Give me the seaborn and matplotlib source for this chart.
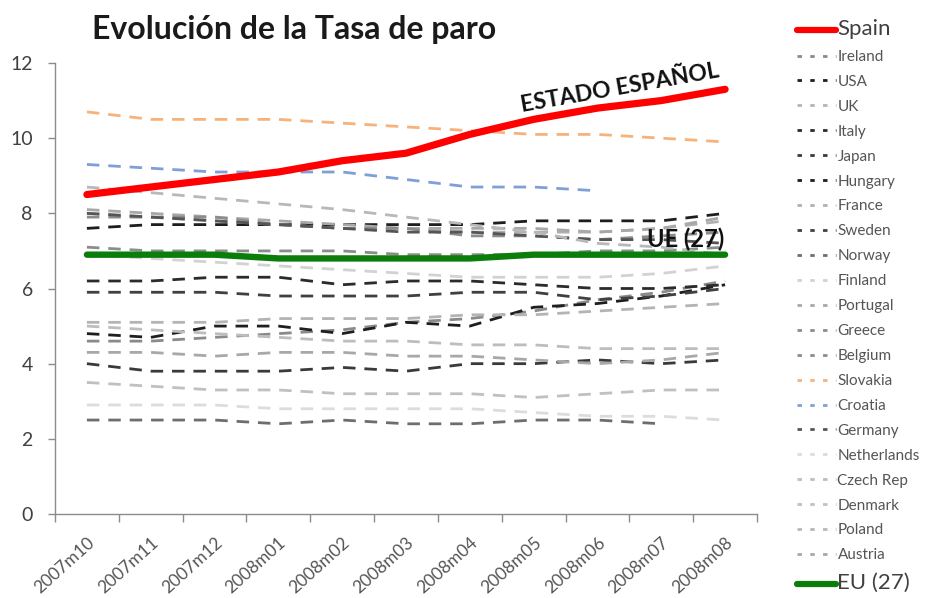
import numpy as np
import pandas as pd
import matplotlib
matplotlib.use("Agg")
import matplotlib.pyplot as plt
import seaborn as sns
from matplotlib.lines import Line2D

# ---------------- data ----------------
months = ["2007m10", "2007m11", "2007m12", "2008m01", "2008m02", "2008m03",
          "2008m04", "2008m05", "2008m06", "2008m07", "2008m08"]
nan = np.nan

spain = [8.5, 8.7, 8.9, 9.1, 9.4, 9.6, 10.1, 10.5, 10.8, 11.0, 11.3]
ireland = [4.6, 4.6, 4.7, 4.8, 4.9, 5.1, 5.2, 5.4, 5.7, 5.9, 6.2]
usa = [4.8, 4.7, 5.0, 5.0, 4.8, 5.1, 5.0, 5.5, 5.6, 5.8, 6.1]
uk = [5.1, 5.1, 5.1, 5.2, 5.2, 5.2, 5.3, 5.3, 5.4, 5.5, 5.6]
italy = [6.2, 6.2, 6.3, 6.3, 6.1, 6.2, 6.2, 6.1, 6.0, 6.0, 6.1]
japan = [4.0, 3.8, 3.8, 3.8, 3.9, 3.8, 4.0, 4.0, 4.1, 4.0, 4.1]
hungary = [7.6, 7.7, 7.7, 7.7, 7.7, 7.7, 7.7, 7.8, 7.8, 7.8, 8.0]
france = [8.0, 7.9, 7.8, 7.7, 7.6, 7.6, 7.5, 7.5, 7.5, 7.6, 7.8]
sweden = [5.9, 5.9, 5.9, 5.8, 5.8, 5.8, 5.9, 5.9, 5.7, 5.8, 6.0]
norway = [2.5, 2.5, 2.5, 2.4, 2.5, 2.4, 2.4, 2.5, 2.5, 2.4, nan]
finland = [6.9, 6.8, 6.7, 6.6, 6.5, 6.4, 6.3, 6.3, 6.3, 6.4, 6.6]
portugal = [8.1, 8.0, 7.9, 7.8, 7.7, 7.6, 7.6, 7.6, 7.5, 7.6, 7.9]
greece = [7.9, 7.9, 7.9, 7.7, 7.6, 7.6, 7.4, 7.4, 7.3, 7.4, 7.5]
belgium = [7.1, 7.0, 7.0, 7.0, 7.0, 6.9, 6.9, 6.9, 7.0, 7.0, 7.1]
slovakia = [10.7, 10.5, 10.5, 10.5, 10.4, 10.3, 10.2, 10.1, 10.1, 10.0, 9.9]
croatia = [9.3, 9.2, 9.1, 9.1, 9.1, 8.9, 8.7, 8.7, 8.6, nan, nan]
germany = [8.0, 7.9, 7.8, 7.7, 7.6, 7.5, 7.5, 7.4, 7.3, 7.3, 7.2]
netherlands = [2.9, 2.9, 2.9, 2.8, 2.8, 2.8, 2.8, 2.7, 2.6, 2.6, 2.5]
czech = [5.0, 4.9, 4.8, 4.7, 4.6, 4.6, 4.5, 4.5, 4.4, 4.4, 4.4]
denmark = [3.5, 3.4, 3.3, 3.3, 3.2, 3.2, 3.2, 3.1, 3.2, 3.3, 3.3]
poland = [8.7, 8.55, 8.4, 8.25, 8.1, 7.9, 7.7, 7.5, 7.2, 7.1, 6.9]
austria = [4.3, 4.3, 4.2, 4.3, 4.3, 4.2, 4.2, 4.1, 4.0, 4.1, 4.3]
eu27 = [6.9, 6.9, 6.9, 6.8, 6.8, 6.8, 6.8, 6.9, 6.9, 6.9, 6.9]

series_names = ["Spain", "Ireland", "USA", "UK", "Italy", "Japan", "Hungary",
                "France", "Sweden", "Norway", "Finland", "Portugal", "Greece",
                "Belgium", "Slovakia", "Croatia", "Germany", "Netherlands",
                "Czech Rep", "Denmark", "Poland", "Austria", "EU (27)"]
series_values = [spain, ireland, usa, uk, italy, japan, hungary, france, sweden,
                 norway, finland, portugal, greece, belgium, slovakia, croatia,
                 germany, netherlands, czech, denmark, poland, austria, eu27]

# ---------------- styles ----------------
colors = {
    "Spain": "#ff0000", "Ireland": "#8a8a8a", "USA": "#1e1e1e", "UK": "#b4b4b4",
    "Italy": "#2b2b2b", "Japan": "#3a3a3a", "Hungary": "#1e1e1e", "France": "#b0b0b0",
    "Sweden": "#404040", "Norway": "#6e6e6e", "Finland": "#d2d2d2", "Portugal": "#a8a8a8",
    "Greece": "#8c8c8c", "Belgium": "#8c8c8c", "Slovakia": "#f7b27a", "Croatia": "#7f9fd6",
    "Germany": "#555555", "Netherlands": "#dcdcdc", "Czech Rep": "#bdbdbd",
    "Denmark": "#c0c0c0", "Poland": "#b8b8b8", "Austria": "#a8a8a8", "EU (27)": "#0a7d0a",
}

records = []
for name, vals in zip(series_names, series_values):
    for i, (m, v) in enumerate(zip(months, vals)):
        records.append({"pais": name, "idx": i, "mes": m, "tasa": v})
df = pd.DataFrame(records)

sns.set_theme(style="white")
plt.rcParams["font.family"] = ["Lato", "DejaVu Sans"]

fig = plt.figure(figsize=(9.28, 5.98), dpi=100)
ax = fig.add_axes([55 / 928, 1 - 514 / 598, (757 - 55) / 928, (514 - 63) / 598])

draw_order = [n for n in series_names if n not in ("Spain", "EU (27)", "Slovakia", "Croatia")]
draw_order += ["Slovakia", "Croatia", "EU (27)", "Spain"]
for name in draw_order:
    sub = df[df["pais"] == name].dropna()
    if name == "Spain":
        sns.lineplot(data=sub, x="idx", y="tasa", ax=ax, color=colors[name],
                     linewidth=5.2, solid_capstyle="round", zorder=6, legend=False)
    elif name == "EU (27)":
        sns.lineplot(data=sub, x="idx", y="tasa", ax=ax, color=colors[name],
                     linewidth=4.6, solid_capstyle="round", zorder=5, legend=False)
    else:
        ln = sns.lineplot(data=sub, x="idx", y="tasa", ax=ax, color=colors[name],
                          linewidth=2.0, zorder=3, legend=False)
        ln.lines[-1].set_dashes((4.5, 3.2))

ax.set_xlim(-0.5, 10.5)
ax.set_ylim(0, 12)
ax.set_xlabel("")
ax.set_ylabel("")

for s in ["top", "right"]:
    ax.spines[s].set_visible(False)
for s in ["left", "bottom"]:
    ax.spines[s].set_color("#8c8c8c")
    ax.spines[s].set_linewidth(1.0)

ax.set_yticks(range(0, 13, 2))
ax.tick_params(axis="y", which="major", length=5, width=1, color="#8c8c8c",
               pad=11, labelsize=14, labelcolor="#404040", left=True, direction="out")
ax.set_xticks(range(len(months)))
ax.set_xticklabels(months, rotation=42, ha="right", rotation_mode="anchor")
ax.set_xticks(np.arange(-0.5, 11, 1), minor=True)
ax.tick_params(axis="x", which="major", length=0, pad=15, labelsize=12.5,
               labelcolor="#555555")
ax.tick_params(axis="x", which="minor", length=6, width=1, color="#8c8c8c",
               bottom=True, direction="out")

# title
fig.text(92 / 928, 1 - 29 / 598, "Evolución de la Tasa de paro", fontsize=23,
         fontweight="bold", color="#1a1a1a", ha="left", va="center")

# annotations
ax.text(8.35, 11.33, "ESTADO ESPAÑOL", fontsize=16.5, fontweight="bold",
        color="#111111", rotation=10, ha="center", va="center", zorder=7)
ax.text(9.38, 7.3, "UE (27)", fontsize=17, fontweight="bold", color="#111111",
        ha="center", va="center", zorder=7)

# legend
handles = []
for name in series_names:
    if name in ("Spain", "EU (27)"):
        h = Line2D([], [], color=colors[name], lw=4.5)
    else:
        h = Line2D([], [], color=colors[name], lw=2.0, dashes=(1.6, 3.0))
    handles.append(h)
leg = fig.legend(handles, series_names, loc="upper left",
                 bbox_to_anchor=(797 / 928, 1 - 19 / 598), frameon=False,
                 fontsize=11, handlelength=2.55, handletextpad=0.1,
                 labelspacing=0.715, borderaxespad=0, borderpad=0)
for t in leg.get_texts():
    t.set_color("#555555")
    if t.get_text() in ("Spain", "EU (27)"):
        t.set_fontsize(16)
        t.set_color("#404040")

fig.savefig("out.png", dpi=100, facecolor="white")
